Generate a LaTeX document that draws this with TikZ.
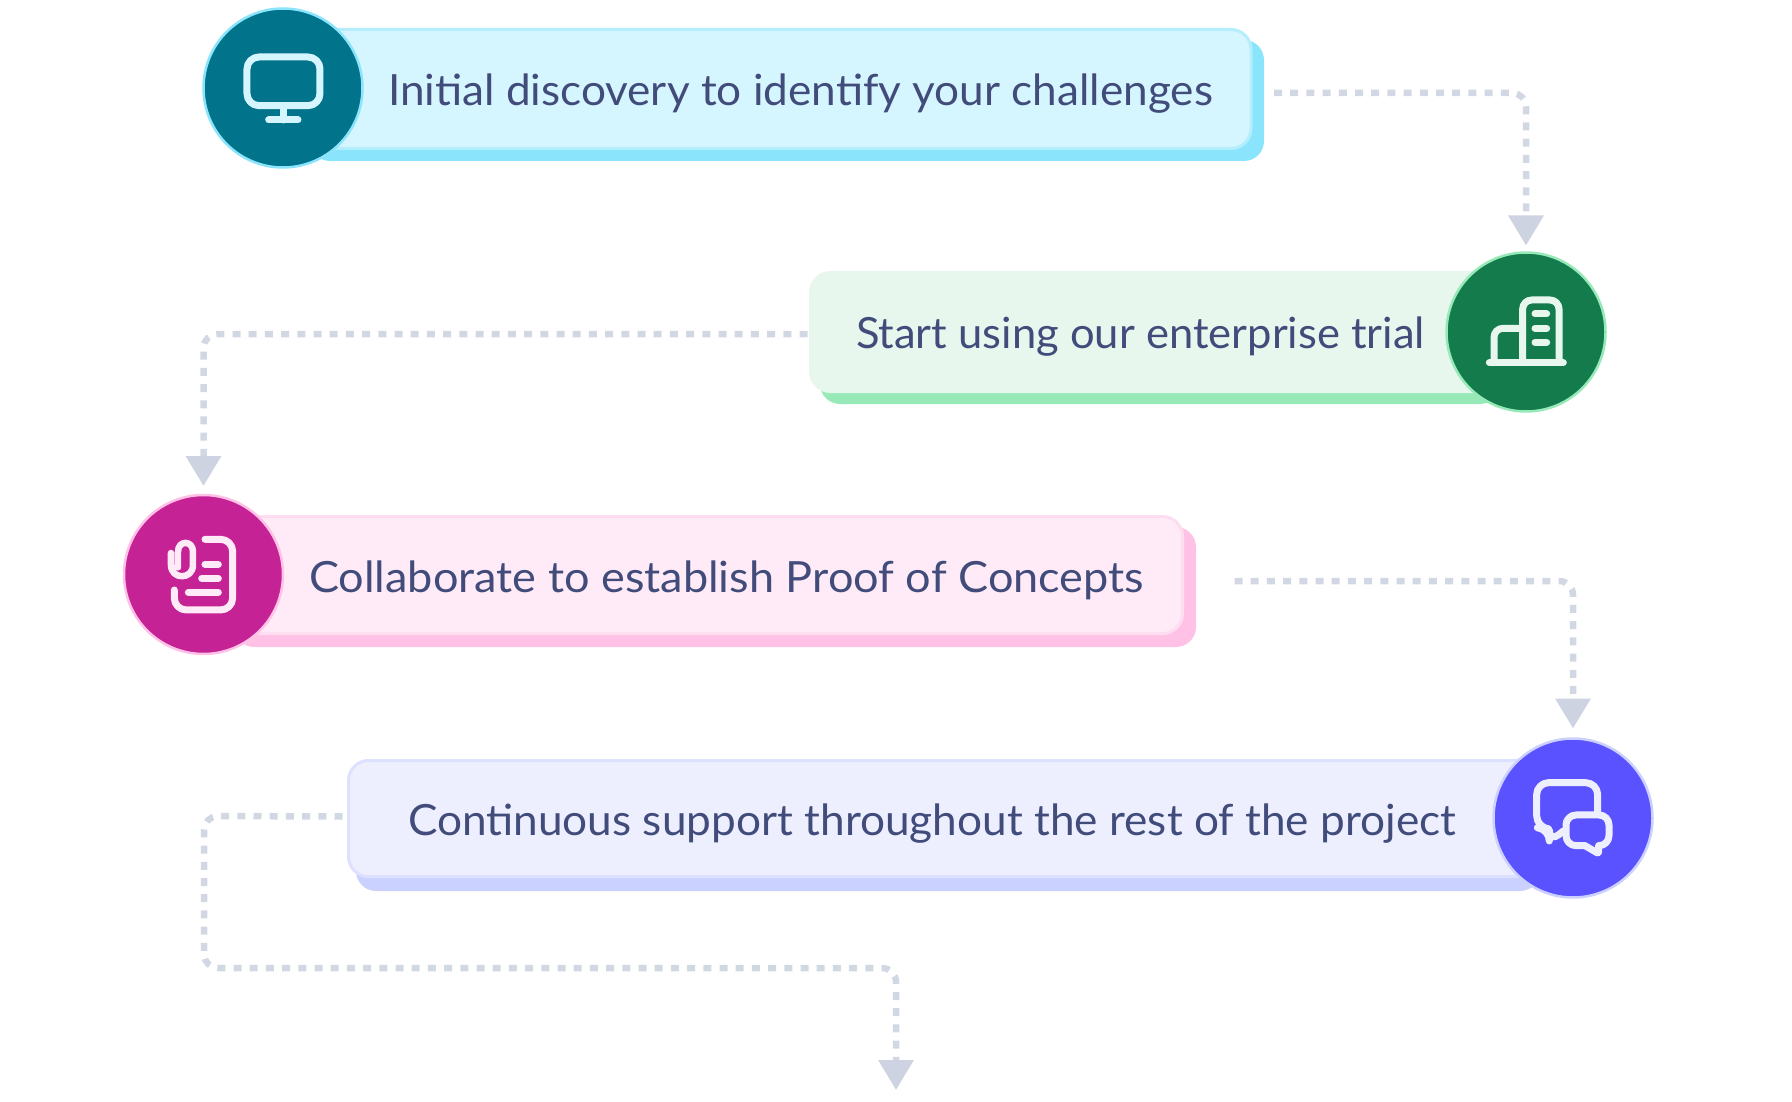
\documentclass[tikz,border=0pt]{standalone}
\usepackage{fontspec}
\setmainfont{Lato}
\usetikzlibrary{arrows.meta}
\definecolor{ink}{HTML}{414C7B}
\definecolor{flow}{HTML}{D2D8E3}
\definecolor{tipc}{HTML}{CDD3E0}
\definecolor{aC}{HTML}{01738A}\definecolor{aS}{HTML}{8AE4FB}\definecolor{aF}{HTML}{D6F6FF}\definecolor{aB}{HTML}{B4EEFD}
\definecolor{bC}{HTML}{137B4C}\definecolor{bS}{HTML}{98E9B8}\definecolor{bF}{HTML}{E8F7EE}\definecolor{bB}{HTML}{E8F7EE}
\definecolor{cC}{HTML}{C42295}\definecolor{cS}{HTML}{FFC2E6}\definecolor{cF}{HTML}{FFEBF7}\definecolor{cB}{HTML}{FFDDF1}
\definecolor{dC}{HTML}{5B52FF}\definecolor{dS}{HTML}{CBD1FF}\definecolor{dF}{HTML}{EDEFFF}\definecolor{dB}{HTML}{DDE1FF}
\newcommand\fitw[2]{\resizebox{#1}{\height}{#2}}
\tikzset{
  x=1pt,y=-1pt,
  plate/.style={rectangle,rounded corners=20pt,inner sep=0pt,outer sep=0pt},
  disc/.style={circle,inner sep=0pt,outer sep=0pt,minimum size=159pt,line width=2.5pt},
  lbl/.style={anchor=base west,inner sep=0pt,outer sep=0pt,text=ink,font=\fontsize{43}{50}\selectfont},
  flowline/.style={draw=flow,line width=6.5pt,dash pattern=on 8pt off 8.2pt,rounded corners=14pt},
  flowtip/.style={-{Triangle[length=30pt,width=34pt,color=tipc]}},
  glyph/.style={line width=7pt,line cap=round,line join=round,rounded corners=12pt},
}
\begin{document}
\begin{tikzpicture}
\useasboundingbox (0,0) rectangle (1792,1102);
% plates
\node[plate,fill=aS,minimum width=954pt,minimum height=121pt] (s1) at (787,100.5) {};
\node[plate,fill=aF,draw=aB,line width=3pt,minimum width=950pt,minimum height=119pt] (b1) at (776,89) {};
\node[plate,fill=bS,minimum width=680pt,minimum height=121pt] (s2) at (1160,343.5) {};
\node[plate,fill=bF,draw=bB,line width=3pt,minimum width=689pt,minimum height=119pt] (b2) at (1155,332) {};
\node[plate,fill=cS,minimum width=962pt,minimum height=120pt] (s3) at (715,587) {};
\node[plate,fill=cF,draw=cB,line width=3pt,minimum width=956pt,minimum height=117pt] (b3) at (704.5,575) {};
\node[plate,fill=dS,minimum width=1184pt,minimum height=120pt] (s4) at (948,831) {};
\node[plate,fill=dF,draw=dB,line width=3pt,minimum width=1191pt,minimum height=116pt] (b4) at (944,818.5) {};
% discs
\node[disc,fill=aC,draw=aS] (c1) at (283,88) {};
\node[disc,fill=bC,draw=bS] (c2) at (1526,332) {};
\node[disc,fill=cC,draw=cS] (c3) at (203.5,574.5) {};
\node[disc,fill=dC,draw=dS] (c4) at (1573,818) {};
% labels
\node[lbl] (t1) at (388,106) {\fitw{825pt}{Initial discovery to identify your challenges}};
\node[lbl] (t2) at (856,348) {\fitw{569pt}{Start using our enterprise trial}};
\node[lbl] (t3) at (309,592) {\fitw{835pt}{Collaborate to establish Proof of Concepts}};
\node[lbl] (t4) at (408,835) {\fitw{1048pt}{Continuous support throughout the rest of the project}};
% connectors
\draw[flowline,flowtip,shorten >=7pt] ([xshift=23pt,yshift=-4pt]b1.east) -| (c2.north);
\draw[flowline,flowtip,shorten >=9pt] ([xshift=-3pt,yshift=-2pt]b2.west) -| (c3.north);
\draw[flowline,flowtip,shorten >=10pt] ([xshift=52pt,yshift=-6pt]b3.east) -| (c4.north);
\coordinate (k1) at (204,816);
\coordinate (k2) at (204,968);
\coordinate (k3) at (896,968);
\coordinate (k4) at (896,1090);
\draw[flowline,flowtip] ([xshift=-6pt,yshift=2pt]b4.west) -- (k1) -- (k2) -- (k3) -- (k4);
% icon: monitor
\begin{scope}[shift={(190,0)},x=.3333pt,y=-.3333pt,draw=aF]
\draw[glyph] (171,171) rectangle (390,317);
\draw[glyph] (280,317) -- (280,360);
\draw[glyph] (236,360) -- (324,360);
\end{scope}
% icon: building
\begin{scope}[shift={(1420,240)},x=.3333pt,y=-.3333pt,draw=bF]
\draw[glyph,rounded corners=9pt] (308,368) -- (308,180) -- (417,180) -- (417,368);
\draw[glyph,rounded corners=9pt] (222,368) -- (222,265) -- (308,265);
\draw[glyph] (208,368) -- (430,368);
\draw[glyph] (345,222) -- (380,222);
\draw[glyph] (345,265) -- (380,265);
\draw[glyph] (345,307) -- (380,307);
\end{scope}
% icon: document with clip
\begin{scope}[shift={(110,480)},x=.3333pt,y=-.3333pt,draw=cF]
\draw[glyph] (285,178) -- (368,178) -- (368,390) -- (193,390) -- (193,330);
\draw[glyph] (285,253) -- (325,253);
\draw[glyph] (275,295) -- (325,295);
\draw[glyph] (235,337) -- (325,337);
\draw[glyph,rounded corners=0pt,line width=6.5pt] (183,219) -- (183,255) .. controls (183,300) and (249,300) .. (249,255) -- (249,215) .. controls (249,180) and (204,180) .. (204,215) -- (204,262);
\end{scope}
% icon: chat
\begin{scope}[shift={(1470,725)},x=.3333pt,y=-.3333pt,draw=dF]
\draw[glyph] (383,262) -- (383,173) -- (200,173) -- (200,308) -- (238,312) -- (238,352) -- (280,318);
\draw[glyph,rounded corners=10pt] (345,362) -- (288,362) -- (288,270) -- (417,270) -- (417,362) -- (386,362);
\draw[glyph,rounded corners=2pt] (345,362) -- (386,386) -- (386,362);
\end{scope}
\end{tikzpicture}
\end{document}
